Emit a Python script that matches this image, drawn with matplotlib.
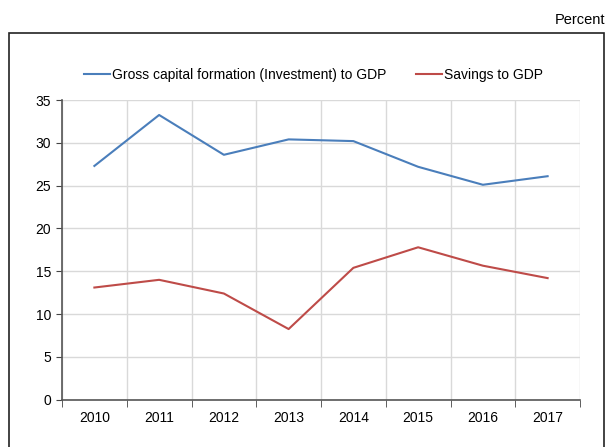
import matplotlib
matplotlib.use("Agg")
import matplotlib.pyplot as plt
from matplotlib.patches import Rectangle

plt.rcParams['font.family'] = ['Liberation Sans', 'DejaVu Sans']

years = ['2010', '2011', '2012', '2013', '2014', '2015', '2016', '2017']
investment = [27.3, 33.25, 28.6, 30.4, 30.2, 27.2, 25.1, 26.1]
savings = [13.1, 14.0, 12.4, 8.25, 15.4, 17.8, 15.65, 14.2]
yticks = [0, 5, 10, 15, 20, 25, 30, 35]

W, H = 613, 447
fig = plt.figure(figsize=(W / 100, H / 100), dpi=100)

# outer frame
fig.patches.append(Rectangle((9 / W, -0.01), (604 - 9) / W, 1 - 33 / H + 0.01,
                             transform=fig.transFigure, fill=False,
                             edgecolor='#222222', linewidth=1.2))
fig.text(605 / W, 1 - 20 / H, 'Percent', ha='right', va='center', fontsize=10.5)

left, right, top, bottom = 62, 580, 100, 399.7
ax = fig.add_axes([left / W, 1 - bottom / H, (right - left) / W, (bottom - top) / H])

x = list(range(len(years)))
l1, = ax.plot(x, investment, color='#4a7ebb', linewidth=1.5,
              label='Gross capital formation (Investment) to GDP')
l2, = ax.plot(x, savings, color='#be4b48', linewidth=1.5, label='Savings to GDP')

ax.set_xlim(-0.5, len(years) - 0.5)
ax.set_ylim(0, 35)
ax.set_yticks(yticks)
ax.set_yticklabels([str(v) for v in yticks])
ax.set_xticks(x)
ax.set_xticklabels(years)
ax.tick_params(axis='x', length=0, pad=8, labelsize=10)
ax.set_xticks([i - 0.5 for i in range(len(years) + 1)], minor=True)
ax.tick_params(axis='x', which='minor', length=5, direction='out', color='#444444')
ax.tick_params(axis='y', length=4, direction='out', labelsize=10, pad=4, color='#444444')

ax.grid(True, which='minor', axis='x', color='#d9d9d9', linewidth=1)
ax.grid(True, which='major', axis='y', color='#d9d9d9', linewidth=1)
ax.set_axisbelow(True)
for s in ['top', 'right']:
    ax.spines[s].set_visible(False)
for s in ['left', 'bottom']:
    ax.spines[s].set_color('#555555')
    ax.spines[s].set_linewidth(1.2)

fig.legend(handles=[l1, l2], loc='center', bbox_to_anchor=(313.5 / W, 1 - 75 / H),
           ncol=2, frameon=False, fontsize=10, handlelength=1.87,
           handletextpad=0.15, columnspacing=2.1, borderpad=0, borderaxespad=0)

fig.savefig('out.png', dpi=100)
